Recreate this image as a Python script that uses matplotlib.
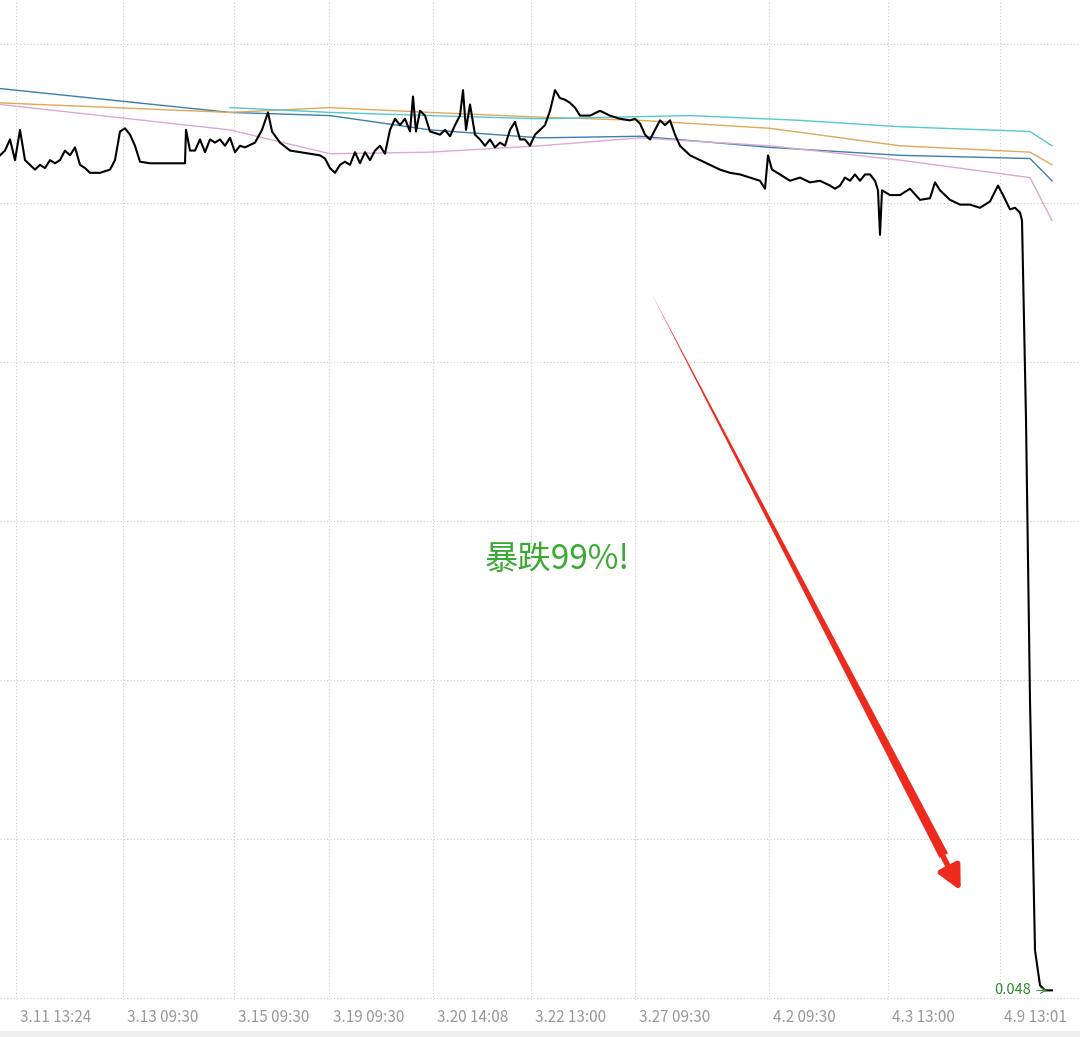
import matplotlib.pyplot as plt

plt.rcParams['font.family'] = ['Noto Sans CJK SC', 'DejaVu Sans']

# time index (bar number) and price
t = [0, 5, 10, 15, 20, 25, 30, 35, 40, 45, 50, 55, 60, 65, 70, 75, 80, 85, 90, 100,
     110, 115, 120, 125, 130, 135, 140, 150, 160, 185, 186, 190, 195, 200, 205, 210, 215, 220, 225, 230,
     235, 240, 245, 255, 262, 268, 272, 280, 290, 300, 310, 320, 325, 330, 335, 340, 345, 350, 355, 360,
     365, 370, 375, 380, 385, 390, 395, 400, 405, 410, 413, 416, 420, 425, 430, 440, 445, 450, 455, 460,
     463, 466, 470, 475, 480, 485, 490, 495, 500, 505, 510, 515, 520, 525, 530, 535, 540, 545, 550, 555,
     560, 565, 570, 575, 580, 590, 600, 610, 620, 630, 635, 640, 645, 650, 655, 660, 665, 670, 675, 680,
     685, 690, 700, 710, 720, 730, 740, 750, 760, 765, 768, 772, 780, 790, 800, 810, 820, 830, 835, 840,
     845, 850, 855, 860, 865, 870, 875, 878, 880, 882, 890, 900, 910, 920, 930, 935, 940, 950, 960, 970,
     980, 990, 998, 1003, 1010, 1015, 1020, 1022, 1026, 1030, 1035, 1040, 1045, 1052]
price = [5.30, 5.33, 5.40, 5.27, 5.46, 5.27, 5.24, 5.21, 5.24, 5.22, 5.27, 5.25, 5.27, 5.33, 5.30, 5.35, 5.24, 5.22, 5.19, 5.19,
         5.21, 5.27, 5.45, 5.47, 5.43, 5.36, 5.26, 5.25, 5.25, 5.25, 5.46, 5.33, 5.33, 5.40, 5.32, 5.40, 5.38, 5.40, 5.36, 5.41,
         5.32, 5.36, 5.35, 5.38, 5.46, 5.57, 5.45, 5.38, 5.33, 5.32, 5.31, 5.30, 5.28, 5.22, 5.19, 5.24, 5.26, 5.24, 5.32, 5.25,
         5.32, 5.27, 5.33, 5.36, 5.31, 5.46, 5.53, 5.49, 5.53, 5.45, 5.67, 5.45, 5.58, 5.55, 5.45, 5.43, 5.46, 5.42, 5.49, 5.55,
         5.71, 5.46, 5.62, 5.43, 5.40, 5.36, 5.40, 5.35, 5.38, 5.36, 5.46, 5.51, 5.40, 5.40, 5.36, 5.43, 5.46, 5.49, 5.58, 5.71,
         5.66, 5.65, 5.63, 5.60, 5.55, 5.55, 5.58, 5.55, 5.53, 5.52, 5.53, 5.50, 5.43, 5.40, 5.46, 5.52, 5.49, 5.52, 5.43, 5.36,
         5.33, 5.30, 5.27, 5.24, 5.21, 5.19, 5.18, 5.16, 5.14, 5.09, 5.30, 5.21, 5.18, 5.14, 5.16, 5.13, 5.14, 5.11, 5.09, 5.11,
         5.16, 5.14, 5.18, 5.14, 5.18, 5.18, 5.14, 5.08, 4.80, 5.08, 5.05, 5.05, 5.09, 5.02, 5.03, 5.13, 5.08, 5.02, 4.99, 4.99,
         4.97, 5.01, 5.11, 5.05, 4.96, 4.97, 4.94, 4.89, 3.64, 1.87, 0.30, 0.08, 0.048, 0.048]

# moving averages
ma_t = [0, 230, 330, 430, 540, 640, 770, 900, 1030, 1052]
ma_blue = [5.72, 5.57, 5.55, 5.46, 5.41, 5.42, 5.35, 5.30, 5.28, 5.14]
ma_orange = [5.63, 5.57, 5.60, 5.57, 5.54, 5.52, 5.47, 5.36, 5.32, 5.24]
ma_pink = [5.62, 5.46, 5.31, 5.32, 5.36, 5.41, 5.36, 5.27, 5.16, 4.89]
cy_t = [230, 330, 430, 540, 690, 800, 900, 1030, 1052]
ma_cyan = [5.60, 5.57, 5.55, 5.53, 5.55, 5.52, 5.48, 5.45, 5.36]

tick_pos = [16, 123, 234, 329, 433, 531, 635, 769, 888, 1000]
tick_labels = ['3.11 13:24', '3.13 09:30', '3.15 09:30', '3.19 09:30', '3.20 14:08',
               '3.22 13:00', '3.27 09:30', '4.2 09:30', '4.3 13:00', '4.9 13:01']

fig = plt.figure(figsize=(10.8, 10.37), dpi=100)
ax = fig.add_axes([0, 37 / 1037, 1, 1000 / 1037])
ax.set_xlim(0, 1080)
ax.set_ylim(-0.0126, 6.277)

for y in range(0, 7):
    ax.axhline(y, color='#cccccc', lw=0.8, ls=(0, (1, 2)), zorder=0)
for x in tick_pos:
    ax.axvline(x, color='#cccccc', lw=0.8, ls=(0, (1, 2)), zorder=0)

ax.plot(ma_t, ma_blue, color='#3b7fb0', lw=1)
ax.plot(ma_t, ma_orange, color='#e0a85a', lw=1)
ax.plot(ma_t, ma_pink, color='#dcaad0', lw=1)
ax.plot(cy_t, ma_cyan, color='#55c8d0', lw=1)
ax.plot(t, price, color='black', lw=1.5)

# tapered arrow: thin at the top, widening towards the head
ax.annotate('', xy=(650, 4.45), xytext=(945, 0.88),
            arrowprops=dict(arrowstyle='wedge,tail_width=0.7,shrink_factor=0.5', color='#ee2a1f', lw=0))
ax.annotate('', xy=(962, 0.66), xytext=(930, 1.05),
            arrowprops=dict(arrowstyle='-|>,head_length=1.4,head_width=0.7', color='#ee2a1f', lw=4))
ax.text(557, 2.76, '暴跌99%!', color='#3aaa35', fontsize=24, ha='center', va='center')
ax.annotate('0.048', xy=(1050, 0.048), xytext=(1031, 0.048), color='#2e8b2e', fontsize=10.5,
            ha='right', va='center', arrowprops=dict(arrowstyle='->', color='#2e8b2e', lw=0.7))

for x, lab in zip(tick_pos, tick_labels):
    fig.text((x + 4) / 1080, 20 / 1037, lab, color='#999999', fontsize=11, ha='left', va='center')
ax.axis('off')
fig.patches.append(plt.Rectangle((0, 0), 1, 6 / 1037, transform=fig.transFigure, color='#eeeeee'))

fig.savefig('out.png', dpi=100)
